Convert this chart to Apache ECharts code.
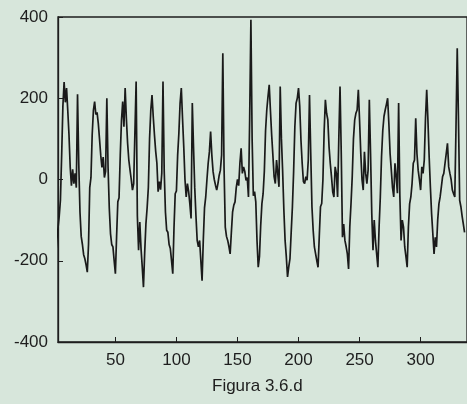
<!DOCTYPE html>
<html>
<head>
<meta charset="utf-8">
<script src="https://cdn.jsdelivr.net/npm/echarts@6/dist/echarts.min.js"></script>
<style>
html,body{margin:0;padding:0;background:#d7e6db;}
#chart{width:467px;height:404px;}
</style>
</head>
<body>
<div id="chart"></div>
<script>
// Series values, one per time step starting at t = 1
const seriesValues = [
  -190, -150, -120, -90, -50, 60, 180, 240, 190, 225,
  170, 110, 30, -15, 25, -10, 15, -20, 210, 40,
  -80, -140, -160, -185, -195, -210, -228, -160, -20, 5,
  110, 170, 192, 160, 165, 138, 100, 60, 30, 55,
  5, 20, 200, 30, -70, -133, -160, -166, -200, -232,
  -140, -55, -45, 60, 146, 192, 130, 225, 150, 90,
  48, 23, 0, -26, -10, -12, 241, -90, -174, -105,
  -170, -215, -265, -180, -110, -70, -20, 100, 170, 208,
  155, 110, 70, 40, -30, -5, -25, 15, 241, 20,
  -80, -125, -130, -160, -170, -200, -232, -120, -35, -28,
  60, 114, 188, 225, 150, 81, 0, -43, -10, -30,
  -60, -96, 188, 80, -20, -90, -150, -166, -150, -200,
  -249, -150, -70, -43, 0, 40, 68, 118, 60, 20,
  0, -14, -26, -10, 10, 23, 60, 311, 30, -117,
  -140, -150, -165, -183, -130, -80, -63, -55, -20, 0,
  -15, 40, 77, 15, 31, 20, -2, 5, -43, 150,
  393, 100, -40, -30, -55, -150, -216, -190, -115, -60,
  -35, 20, 120, 171, 204, 233, 170, 110, 60, 7,
  -10, 48, 15, -18, 229, 100, 20, -75, -150, -190,
  -240, -215, -195, -130, -67, 20, 130, 188, 200, 225,
  180, 97, 40, -5, -10, 7, -2, 48, 208, 65,
  -67, -125, -166, -183, -200, -216, -140, -67, -59, 0,
  120, 196, 163, 147, 81, 40, 7, -30, -43, 31,
  15, -43, 100, 229, 65, -142, -110, -150, -165, -183,
  -220, -117, -59, 7, 100, 146, 163, 171, 221, 146,
  64, 0, -26, 68, 15, -10, 23, 196, 64, -84,
  -174, -100, -150, -183, -216, -117, -43, 56, 120, 155,
  171, 185, 200, 138, 64, 23, -20, -43, 40, 7,
  -34, 188, -40, -150, -100, -117, -166, -190, -216, -117,
  -60, -43, -10, 40, 48, 151, 64, 23, 0, -26,
  31, 15, 48, 150, 221, 146, 56, -18, -84, -133,
  -183, -142, -166, -100, -60, -43, -18, 7, 15, 40,
  64, 89, 31, 15, 0, -26, -35, -43, 130, 323,
  150, -51, -67, -90, -110, -130
];
const xTickLabels = [50, 100, 150, 200, 250, 300];
const yTickLabels = [-400, -200, 0, 200, 400];
const captionText = 'Figura 3.6.d';

const points = seriesValues.map((v, i) => [i + 1, v]);
const chart = echarts.init(document.getElementById('chart'), null, {renderer: 'canvas'});
const fontFamily = '"Liberation Sans", Arial, sans-serif';
chart.setOption({
  backgroundColor: '#d7e6db',
  animation: false,
  title: {
    text: captionText,
    left: 207,
    top: 373,
    textStyle: {fontFamily: fontFamily, fontSize: 17, fontWeight: 'normal', color: '#1e1e1e'}
  },
  grid: {
    left: 58, top: 17, width: 414, height: 325,
    show: true, borderColor: '#1e1e1e', borderWidth: 1.3, backgroundColor: 'transparent'
  },
  xAxis: {
    type: 'value', min: 3, max: 338,
    axisLine: {show: true, onZero: false, lineStyle: {color: '#1e1e1e', width: 1.3}},
    axisTick: {show: true, inside: true, length: 5, customValues: xTickLabels, lineStyle: {color: '#1e1e1e'}},
    axisLabel: {customValues: xTickLabels, fontFamily: fontFamily, fontSize: 17, color: '#1e1e1e', margin: 10},
    splitLine: {show: false}
  },
  yAxis: {
    type: 'value', min: yTickLabels[0], max: yTickLabels[yTickLabels.length - 1], interval: 200,
    axisLine: {show: true, onZero: false, lineStyle: {color: '#1e1e1e', width: 1.3}},
    axisTick: {show: true, inside: true, length: 5, lineStyle: {color: '#1e1e1e'}},
    axisLabel: {fontFamily: fontFamily, fontSize: 17, color: '#1e1e1e', margin: 10},
    splitLine: {show: false}
  },
  series: [{
    type: 'line',
    data: points,
    showSymbol: false,
    clip: true,
    lineStyle: {color: '#1a1a1a', width: 1.7},
    emphasis: {disabled: true}
  }]
});
</script>
</body>
</html>
